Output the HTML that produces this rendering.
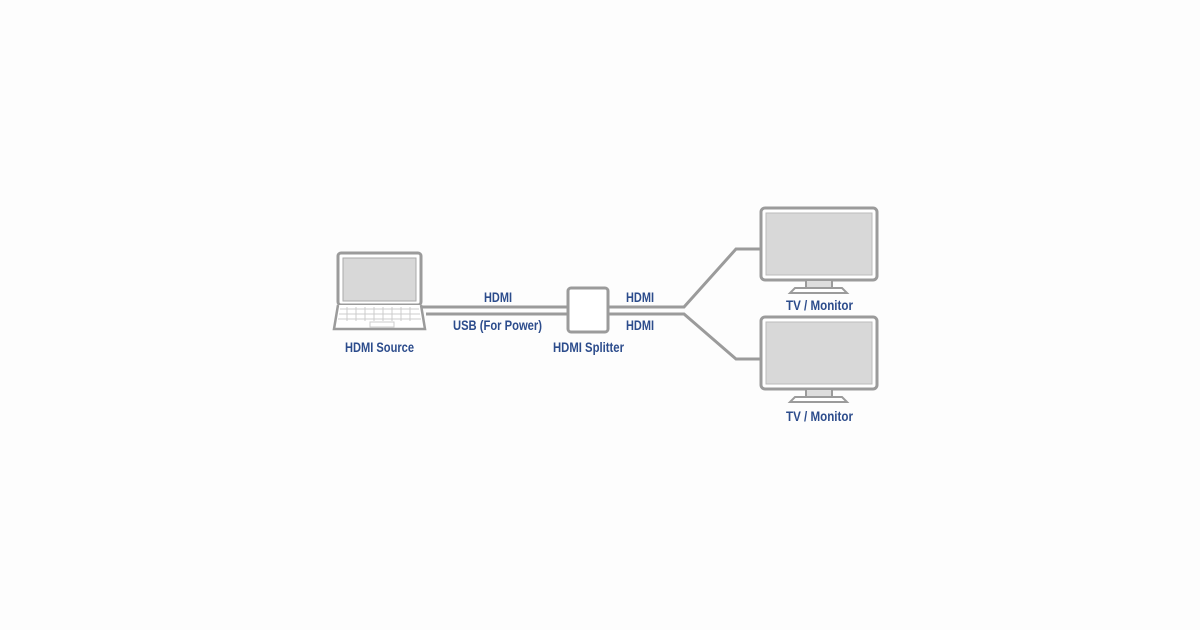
<!DOCTYPE html>
<html><head><style>
body{margin:0;background:#fdfdfd;width:1200px;height:630px;overflow:hidden}
svg{position:absolute;left:0;top:0}
text{font-family:"Liberation Sans Narrow","Liberation Sans",sans-serif;font-weight:bold;font-size:14px;fill:#2c4c8c}
</style></head><body>
<svg width="1200" height="630" viewBox="0 0 1200 630">
<g fill="none" stroke="#9b9b9b" stroke-width="3">
<rect x="338" y="253" width="83" height="52" rx="3" fill="#fff"/>
<rect x="343" y="258" width="73" height="43" fill="#d8d8d8" stroke="#aaa" stroke-width="1"/>
<path d="M338 305 L334 329 L425 329 L421 305" fill="#fff" stroke-width="2.5"/>
<g stroke="#ccc" stroke-width="1">
<path d="M340 309 H419 M339 314 H420 M338 319 H421"/>
<path d="M347 307 V321 M356 307 V321 M365 307 V321 M374 307 V321 M383 307 V321 M392 307 V321 M401 307 V321 M410 307 V321"/>
<rect x="370" y="322" width="24" height="5"/>
</g>
<path d="M422 307 H568 M426 314 H568"/>
<path d="M608 307 H684 L736 249 H760 M608 314 H684 L736 359 H760"/>
<rect x="568" y="288" width="40" height="44" rx="3" fill="#fff"/>
<rect x="761" y="208" width="116" height="72" rx="4" fill="#fff"/>
<rect x="766" y="213" width="106" height="62" fill="#d8d8d8" stroke="#bbb" stroke-width="1"/>
<path d="M806 281 V288 H832 V281" fill="#ddd" stroke-width="2"/>
<path d="M795 288 H842 L847 293 H790 Z" fill="#fff" stroke-width="2"/>
<rect x="761" y="317" width="116" height="72" rx="4" fill="#fff"/>
<rect x="766" y="322" width="106" height="62" fill="#d8d8d8" stroke="#bbb" stroke-width="1"/>
<path d="M806 390 V397 H832 V390" fill="#ddd" stroke-width="2"/>
<path d="M795 397 H842 L847 402 H790 Z" fill="#fff" stroke-width="2"/>
</g>
<g lengthAdjust="spacingAndGlyphs">
<text x="484" y="302" textLength="28" lengthAdjust="spacingAndGlyphs">HDMI</text>
<text x="453" y="330" textLength="89" lengthAdjust="spacingAndGlyphs">USB (For Power)</text>
<text x="345" y="352" textLength="69" lengthAdjust="spacingAndGlyphs">HDMI Source</text>
<text x="553" y="352" textLength="71" lengthAdjust="spacingAndGlyphs">HDMI Splitter</text>
<text x="626" y="302" textLength="28" lengthAdjust="spacingAndGlyphs">HDMI</text>
<text x="626" y="330" textLength="28" lengthAdjust="spacingAndGlyphs">HDMI</text>
<text x="786" y="310" textLength="67" lengthAdjust="spacingAndGlyphs">TV / Monitor</text>
<text x="786" y="421" textLength="67" lengthAdjust="spacingAndGlyphs">TV / Monitor</text>
</g>
</svg>
</body></html>
